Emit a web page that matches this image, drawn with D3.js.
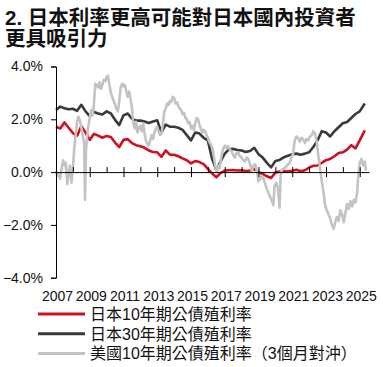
<!DOCTYPE html>
<html>
<head>
<meta charset="utf-8">
<script src="https://cdn.jsdelivr.net/npm/d3@7"></script>
<style>
body { margin: 0; background: #fff; }
text { font-family: "Liberation Sans", Arial, "Noto Sans CJK TC", sans-serif; }
</style>
</head>
<body>
<svg id="chart" width="383" height="367"></svg>
<script>
var titleLines = ["2. 日本利率更高可能對日本國內投資者", "更具吸引力"];
var seriesNames = ["日本10年期公債殖利率", "日本30年期公債殖利率", "美國10年期公債殖利率（3個月對沖）"];
var seriesColors = ["#d0101f", "#3a3a3a", "#c3c3c3"];
var yTicks = [-4, -2, 0, 2, 4];
var yearLabels = [2007, 2009, 2011, 2013, 2015, 2017, 2019, 2021, 2023, 2025];

// quarterly, 2007.00 .. 2025.25
var jpDates = [
    2007.00, 2007.25, 2007.50, 2007.75, 2008.00, 2008.25, 2008.50, 2008.75,
    2009.00, 2009.25, 2009.50, 2009.75, 2010.00, 2010.25, 2010.50, 2010.75,
    2011.00, 2011.25, 2011.50, 2011.75, 2012.00, 2012.25, 2012.50, 2012.75,
    2013.00, 2013.25, 2013.50, 2013.75, 2014.00, 2014.25, 2014.50, 2014.75,
    2015.00, 2015.25, 2015.50, 2015.75, 2016.00, 2016.25, 2016.50, 2016.75,
    2017.00, 2017.25, 2017.50, 2017.75, 2018.00, 2018.25, 2018.50, 2018.75,
    2019.00, 2019.25, 2019.50, 2019.75, 2020.00, 2020.25, 2020.50, 2020.75,
    2021.00, 2021.25, 2021.50, 2021.75, 2022.00, 2022.25, 2022.50, 2022.75,
    2023.00, 2023.25, 2023.50, 2023.75, 2024.00, 2024.25, 2024.50, 2024.75,
    2025.00, 2025.30
];
var jp10 = [
    1.72, 1.65, 1.88, 1.68, 1.48, 1.38, 1.74, 1.50,
    1.22, 1.45, 1.38, 1.30, 1.37, 1.33, 1.12, 0.95,
    1.22, 1.25, 1.10, 1.02, 0.98, 0.92, 0.82, 0.76,
    0.75, 0.58, 0.82, 0.66, 0.66, 0.60, 0.52, 0.45,
    0.33, 0.42, 0.38, 0.30, 0.12, -0.05, -0.20, -0.04,
    0.06, 0.07, 0.08, 0.06, 0.07, 0.04, 0.06, 0.12,
    0.00, -0.07, -0.16, -0.22, -0.02, 0.02, 0.03, 0.02,
    0.05, 0.09, 0.03, 0.07, 0.17, 0.24, 0.25, 0.35,
    0.45, 0.50, 0.60, 0.72, 0.75, 0.85, 1.02, 0.90,
    1.20, 1.58
];
var jp30 = [
    2.35, 2.48, 2.42, 2.38, 2.40, 2.32, 2.55, 2.30,
    2.12, 2.28, 2.22, 2.18, 2.30, 2.22, 1.98, 1.78,
    2.15, 2.22, 2.02, 1.95, 1.95, 1.92, 1.86, 1.92,
    1.96, 1.50, 1.80, 1.72, 1.72, 1.68, 1.60, 1.40,
    1.20, 1.50, 1.46, 1.30, 1.20, 0.50, 0.08, 0.40,
    0.70, 0.86, 0.88, 0.84, 0.82, 0.76, 0.80, 0.92,
    0.68, 0.55, 0.35, 0.18, 0.42, 0.46, 0.56, 0.62,
    0.68, 0.70, 0.66, 0.70, 0.75, 0.95, 1.20, 1.55,
    1.50, 1.35, 1.55, 1.70, 1.85, 1.90, 2.05, 2.20,
    2.30, 2.60
];

var usDates = [
    2007.00, 2007.08, 2007.17, 2007.25, 2007.33, 2007.42, 2007.50, 2007.58, 2007.67, 2007.75, 2007.83, 2007.92,
    2008.00, 2008.08, 2008.17, 2008.25, 2008.33, 2008.42, 2008.50, 2008.58, 2008.67, 2008.72, 2008.78, 2008.85, 2008.92,
    2009.00, 2009.08, 2009.17, 2009.25, 2009.33, 2009.42, 2009.50, 2009.58, 2009.67, 2009.75, 2009.83, 2009.92,
    2010.00, 2010.08, 2010.17, 2010.25, 2010.33, 2010.42, 2010.50, 2010.58, 2010.67, 2010.75, 2010.83, 2010.92,
    2011.00, 2011.08, 2011.17, 2011.25, 2011.33, 2011.42, 2011.50, 2011.58, 2011.67, 2011.75, 2011.83, 2011.92,
    2012.00, 2012.08, 2012.17, 2012.25, 2012.33, 2012.42, 2012.50, 2012.58, 2012.67, 2012.75, 2012.83, 2012.92,
    2013.00, 2013.08, 2013.17, 2013.25, 2013.33, 2013.42, 2013.50, 2013.58, 2013.67, 2013.75, 2013.83, 2013.92,
    2014.00, 2014.08, 2014.17, 2014.25, 2014.33, 2014.42, 2014.50, 2014.58, 2014.67, 2014.75, 2014.83, 2014.92,
    2015.00, 2015.08, 2015.17, 2015.25, 2015.33, 2015.42, 2015.50, 2015.58, 2015.67, 2015.75, 2015.83, 2015.92,
    2016.00, 2016.08, 2016.17, 2016.25, 2016.33, 2016.42, 2016.50, 2016.55, 2016.62, 2016.70, 2016.78, 2016.87, 2016.95,
    2017.03, 2017.12, 2017.20, 2017.30, 2017.40, 2017.50, 2017.60, 2017.70, 2017.80, 2017.90,
    2018.00, 2018.10, 2018.20, 2018.30, 2018.40, 2018.50, 2018.60, 2018.70, 2018.80, 2018.90,
    2019.00, 2019.10, 2019.20, 2019.30, 2019.40, 2019.50, 2019.60, 2019.70, 2019.80, 2019.88, 2019.95,
    2020.05, 2020.15, 2020.25, 2020.32, 2020.42, 2020.55, 2020.70, 2020.85, 2020.95,
    2021.05, 2021.15, 2021.25, 2021.35, 2021.45, 2021.55, 2021.65, 2021.75, 2021.85, 2021.95,
    2022.05, 2022.15, 2022.25, 2022.35, 2022.45, 2022.55, 2022.65, 2022.75, 2022.85, 2022.95,
    2023.05, 2023.15, 2023.25, 2023.35, 2023.45, 2023.55, 2023.65, 2023.75, 2023.85, 2023.95,
    2024.05, 2024.15, 2024.25, 2024.35, 2024.45, 2024.55, 2024.65, 2024.75, 2024.85, 2024.92,
    2025.00, 2025.10, 2025.20, 2025.30, 2025.37
];
var us10h = [
    0.05, -0.15, -0.05, -0.25, 0.15, 0.45, 0.25, 0.35, -0.45, -0.05, 0.25, -0.40,
    0.10, 0.90, 1.45, 1.90, 2.10, 1.95, 1.70, 1.40, 1.10, -1.05, 0.90, 1.35, 1.75,
    2.05, 2.35, 2.15, 2.60, 3.35, 3.30, 3.20, 3.40, 3.15, 3.30, 3.50, 3.45,
    3.60, 3.65, 3.30, 3.00, 2.85, 2.70, 2.55, 2.40, 2.30, 2.70, 3.20, 3.35,
    3.25, 3.30, 3.05, 2.85, 3.05, 2.75, 2.45, 1.85, 1.65, 1.90, 1.50, 1.70,
    1.75, 1.55, 1.85, 1.45, 1.20, 1.05, 1.00, 1.20, 1.40, 1.25, 1.50, 1.65,
    1.70, 1.55, 1.40, 1.45, 1.80, 2.30, 2.40, 2.60, 2.55, 2.70, 2.65, 2.85,
    2.80, 2.60, 2.65, 2.50, 2.40, 2.35, 2.20, 2.25, 2.05, 2.00, 1.85, 1.90,
    1.65, 1.75, 1.60, 1.85, 2.05, 2.00, 1.80, 1.65, 1.50, 1.60, 1.55, 1.40,
    1.30, 1.15, 1.05, 0.95, 0.70, 0.30, 0.05, 0.00, 0.25, 0.15, 0.50, 0.80, 0.95,
    1.00, 0.90, 0.98, 0.85, 0.80, 0.65, 0.55, 0.72, 0.75, 0.60,
    0.55, 0.45, 0.40, 0.55, 0.50, 0.30, 0.05, 0.25, 0.30, 0.05,
    -0.35, -0.25, -0.15, -0.25, -0.45, -0.65, -0.80, -0.95, -1.10, -1.25, -0.55,
    -0.40, -0.60, -1.35, 0.00, 0.10, 0.15, 0.25, 0.35, 0.55,
    0.70, 1.20, 1.35, 1.30, 1.15, 1.30, 1.25, 1.10, 1.25, 1.20,
    1.35, 1.40, 1.55, 1.45, 1.15, 0.60, 0.15, -0.35, -0.75, -1.25,
    -1.45, -1.60, -1.75, -2.00, -2.15, -1.90, -1.70, -1.85, -1.45, -1.60,
    -1.90, -1.55, -1.20, -1.40, -1.10, -1.30, -1.05, -1.15, -0.75, -0.10,
    0.35, 0.50, 0.25, 0.40, 0.05
];

var drawChart = function(svg) {
    var plot = {left: 56, right: 369, top: 66.5, bottom: 277.7};

    var x = d3.scaleLinear()
        .domain([2007, 2025.55])
        .range([plot.left, plot.right]);
    var y = d3.scaleLinear()
        .domain([-4, 4])
        .range([plot.bottom, plot.top]);

    // title
    svg.append("g")
        .selectAll("text")
        .data(titleLines)
        .enter()
        .append("text")
        .text(function(d) {return d;})
        .attr("x", 5)
        .attr("y", function(d, i) {return 25 + i * 21;})
        .attr("font-size", 20.5)
        .attr("font-weight", "bold")
        .attr("fill", "#111");

    // lines first, axes on top like the original
    var series = [
        {dates: jpDates, values: jp10},
        {dates: jpDates, values: jp30},
        {dates: usDates, values: us10h}
    ];
    var line = d3.line()
        .x(function(d) {return x(d[0]);})
        .y(function(d) {return y(d[1]);});

    svg.append("g")
        .selectAll("path")
        .data(series)
        .enter()
        .append("path")
        .attr("d", function(s) {
            return line(s.dates.map(function(t, i) {return [t, s.values[i]];}));
        })
        .attr("fill", "none")
        .attr("stroke", function(d, i) {return seriesColors[i];})
        .attr("stroke-width", 2.6)
        .attr("stroke-linejoin", "round");

    // y axis
    var yAxis = svg.append("g")
        .attr("transform", "translate(" + plot.left + ",0)")
        .call(d3.axisLeft(y)
            .tickValues(yTicks)
            .tickSize(5)
            .tickPadding(8)
            .tickFormat(function(d) {return d3.format(".1f")(d) + "%";}));
    yAxis.select(".domain").attr("stroke", "#000");
    yAxis.selectAll("text")
        .attr("font-size", 14)
        .attr("fill", "#111")
        .style("font-family", "'Liberation Sans', Arial, sans-serif");

    // x axis along zero: yearly minor ticks above, labelled years crossing
    var years = d3.range(2007, 2026);
    var xAxis = svg.append("g")
        .attr("transform", "translate(0," + y(0) + ")")
        .call(d3.axisBottom(x)
            .tickValues(years.slice(1))
            .tickSizeOuter(0)
            .tickFormat(""));
    xAxis.select(".domain").attr("stroke", "#000");
    xAxis.selectAll(".tick line")
        .attr("y1", -5)
        .attr("y2", function(d) {return yearLabels.indexOf(d) >= 0 ? 5 : 0;});

    // year labels at the bottom
    var xLabels = svg.append("g")
        .attr("transform", "translate(1," + 288 + ")")
        .call(d3.axisBottom(x)
            .tickValues(yearLabels)
            .tickSize(0)
            .tickFormat(d3.format("d")));
    xLabels.select(".domain").remove();
    xLabels.selectAll("text")
        .attr("font-size", 14)
        .attr("fill", "#111")
        .style("font-family", "'Liberation Sans', Arial, sans-serif");

    // legend
    var legend = svg.append("g")
        .selectAll("g")
        .data(seriesNames)
        .enter()
        .append("g")
        .attr("transform", function(d, i) {return "translate(38," + (314 + i * 19.7) + ")";});
    legend.append("line")
        .attr("x1", 0)
        .attr("x2", 47)
        .attr("stroke", function(d, i) {return seriesColors[i];})
        .attr("stroke-width", 3);
    legend.append("text")
        .text(function(d) {return d;})
        .attr("x", 52)
        .attr("y", 6)
        .attr("font-size", 16)
        .attr("fill", "#111");
};

drawChart(d3.select("#chart"));
</script>
</body>
</html>
